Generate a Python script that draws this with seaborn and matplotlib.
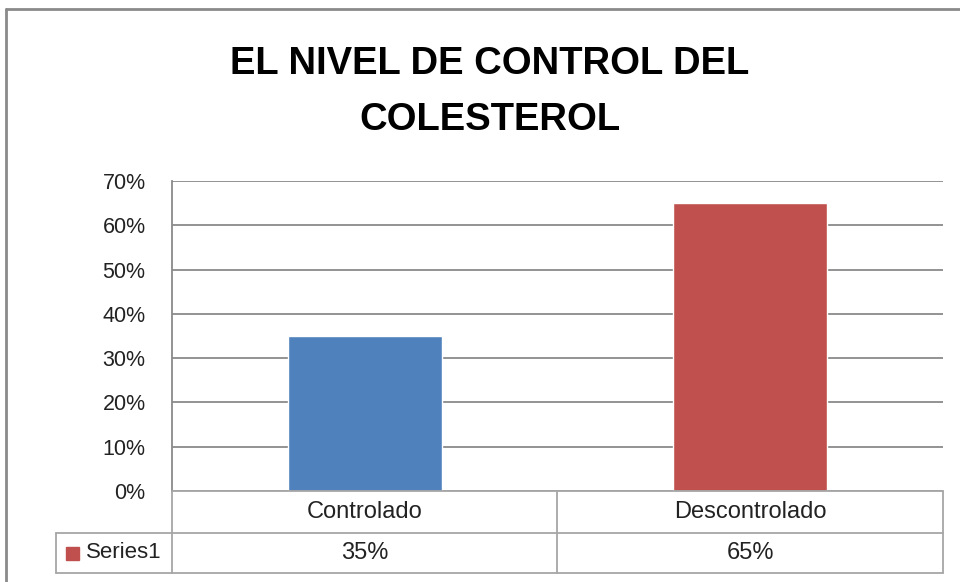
import matplotlib
matplotlib.use("Agg")
import matplotlib.pyplot as plt
import seaborn as sns
import pandas as pd
from matplotlib.lines import Line2D
from matplotlib.patches import Rectangle
from matplotlib.ticker import PercentFormatter

# --- datos ---
categorias = ["Controlado", "Descontrolado"]
valores = [0.35, 0.65]
serie = "Series1"
colores = ["#4F81BD", "#C0504D"]
titulo = "EL NIVEL DE CONTROL DEL\nCOLESTEROL"

sns.set_style("white")
plt.rcParams["font.family"] = ["Liberation Sans", "DejaVu Sans"]

W, H = 960, 582
GRIS = "#8a8a8a"
GRIS_TABLA = "#a6a6a6"
TEXTO = "#222222"

df = pd.DataFrame({"categoria": categorias, "valor": valores})

fig = plt.figure(figsize=(W / 100, H / 100), dpi=100)
fig.patch.set_facecolor("white")


def fx(px):
    return px / W


def fy(py):
    return 1 - py / H


# area del grafico
x0, x1, y_top, y_bot = 172, 943, 181, 491
ax = fig.add_axes([fx(x0), fy(y_bot), fx(x1) - fx(x0), fy(y_top) - fy(y_bot)])
sns.barplot(data=df, x="categoria", y="valor", hue="categoria",
            palette=colores, width=0.4, legend=False, ax=ax, saturation=1)
ax.set_ylim(0, 0.7)
ax.set_xlim(-0.5, 1.5)
ax.set_yticks([i / 10 for i in range(8)])
ax.yaxis.set_major_formatter(PercentFormatter(1.0, decimals=0))
ax.set_xticks([])
ax.set_xlabel("")
ax.set_ylabel("")
ax.grid(axis="y", color=GRIS, linewidth=1.3)
ax.set_axisbelow(True)
for s in ["top", "right", "bottom"]:
    ax.spines[s].set_visible(False)
ax.spines["left"].set_color(GRIS)
ax.spines["left"].set_linewidth(1.3)
ax.tick_params(axis="y", length=0, pad=19, labelsize=15.5, labelcolor=TEXTO)

# titulo
fig.text(fx(490), fy(92), titulo, ha="center", va="center", fontsize=27.5,
         fontweight="bold", linespacing=1.7, color="black")

# tabla de datos
r0, r1, r2 = 491, 533, 573
xm = (x0 + x1) / 2 - 0.5
lx = 56
lineas = [
    ((x0, x1), (r0, r0)),
    ((lx, x1), (r1, r1)),
    ((lx, x1), (r2, r2)),
    ((x0, x0), (r0, r2)),
    ((xm, xm), (r0, r2)),
    ((x1, x1), (r0, r2)),
    ((lx, lx), (r1, r2)),
]
for xs, ys in lineas:
    fig.add_artist(Line2D([fx(xs[0]), fx(xs[1])], [fy(ys[0]), fy(ys[1])],
                          color=GRIS_TABLA, linewidth=1.3))

centros = [(x0 + xm) / 2, (xm + x1) / 2]
for c, cat, v in zip(centros, categorias, valores):
    fig.text(fx(c), fy((r0 + r1) / 2), cat, ha="center", va="center",
             fontsize=17, color=TEXTO)
    fig.text(fx(c), fy((r1 + r2) / 2), f"{v:.0%}", ha="center", va="center",
             fontsize=17, color=TEXTO)

fig.add_artist(Rectangle((fx(66), fy(560)), fx(13), 13 / H, color=colores[1]))
fig.text(fx(86), fy((r1 + r2) / 2), serie, ha="left", va="center",
         fontsize=16, color=TEXTO)

# marco exterior
fig.add_artist(Line2D([fx(6), fx(6)], [fy(9), 0], color=GRIS, linewidth=2))
fig.add_artist(Line2D([fx(6), 1], [fy(9), fy(9)], color=GRIS, linewidth=2))

fig.savefig("out.png", dpi=100)
